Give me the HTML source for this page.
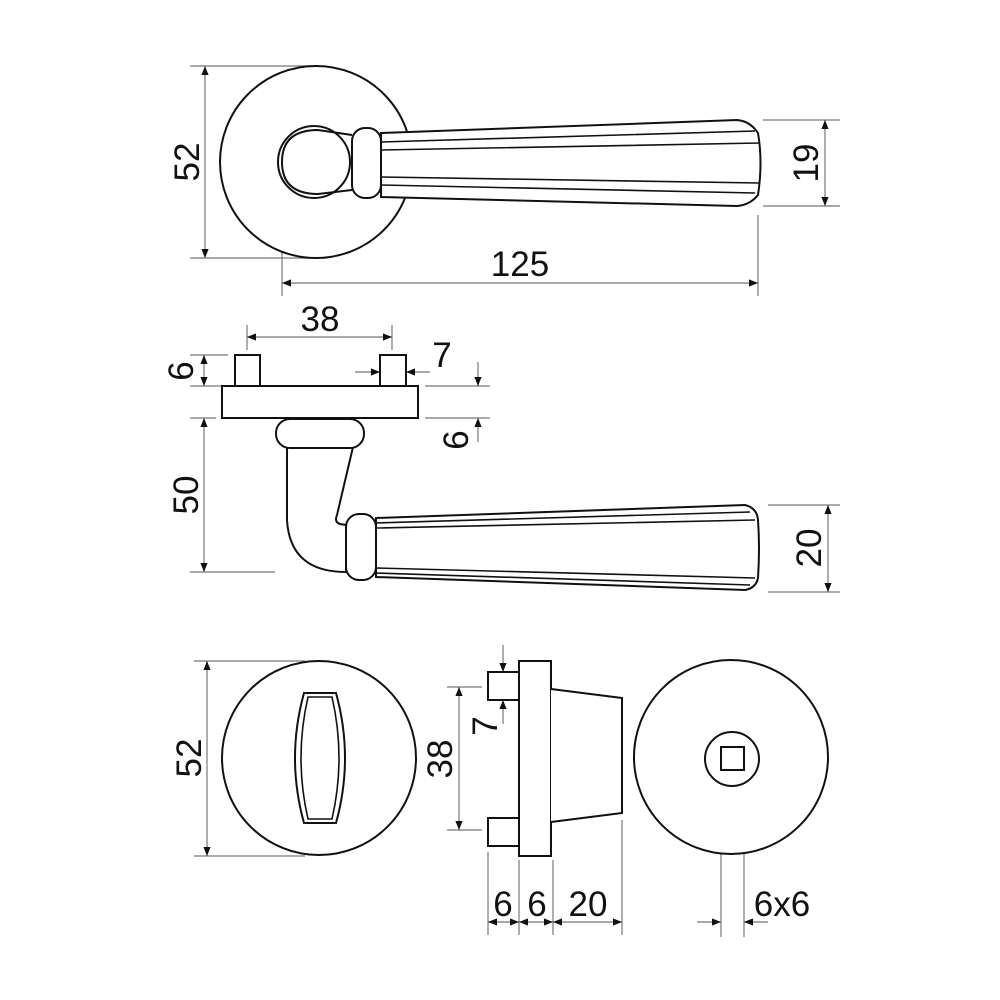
<!DOCTYPE html>
<html><head><meta charset="utf-8"><style>
html,body{margin:0;padding:0;background:#fff;}
svg{display:block;}
text{font-family:"Liberation Sans",sans-serif;font-size:35px;fill:#111;}
</style></head><body>
<svg width="1000" height="1000" viewBox="0 0 1000 1000" xmlns="http://www.w3.org/2000/svg">
<defs>
<marker id="a" viewBox="0 0 10 10" refX="10" refY="5" markerWidth="12" markerHeight="9" orient="auto-start-reverse" markerUnits="userSpaceOnUse"><path d="M0,1 L10,5 L0,9 Z" fill="#111"/></marker>
</defs>
<g fill="none" stroke="#777" stroke-width="1.2">
<line x1="190" y1="66" x2="315" y2="66"/><line x1="190" y1="258" x2="310" y2="258"/>
<line x1="205" y1="66" x2="205" y2="258" marker-start="url(#a)" marker-end="url(#a)"/>
<line x1="763" y1="120" x2="840" y2="120"/><line x1="763" y1="206" x2="840" y2="206"/>
<line x1="825" y1="120" x2="825" y2="206" marker-start="url(#a)" marker-end="url(#a)"/>
<line x1="282" y1="212" x2="282" y2="296"/><line x1="758" y1="215" x2="758" y2="296"/>
<line x1="282" y1="283" x2="758" y2="283" marker-start="url(#a)" marker-end="url(#a)"/>
<line x1="247" y1="325" x2="247" y2="350"/><line x1="392" y1="325" x2="392" y2="350"/>
<line x1="247" y1="337" x2="392" y2="337" marker-start="url(#a)" marker-end="url(#a)"/>
<line x1="355" y1="372" x2="380" y2="372" marker-end="url(#a)"/>
<line x1="430" y1="372" x2="406" y2="372" marker-end="url(#a)"/>
<line x1="190" y1="355" x2="228" y2="355"/><line x1="190" y1="386" x2="222" y2="386"/>
<line x1="204" y1="355" x2="204" y2="386" marker-start="url(#a)" marker-end="url(#a)"/>
<line x1="425" y1="386" x2="490" y2="386"/><line x1="425" y1="418" x2="490" y2="418"/>
<line x1="478" y1="362" x2="478" y2="386" marker-end="url(#a)"/>
<line x1="478" y1="442" x2="478" y2="418" marker-end="url(#a)"/>
<line x1="190" y1="418" x2="216" y2="418"/><line x1="190" y1="572" x2="275" y2="572"/>
<line x1="204" y1="418" x2="204" y2="572" marker-start="url(#a)" marker-end="url(#a)"/>
<line x1="768" y1="505" x2="840" y2="505"/><line x1="768" y1="592" x2="840" y2="592"/>
<line x1="828" y1="505" x2="828" y2="592" marker-start="url(#a)" marker-end="url(#a)"/>
<line x1="194" y1="661" x2="305" y2="661"/><line x1="194" y1="856" x2="305" y2="856"/>
<line x1="207" y1="661" x2="207" y2="856" marker-start="url(#a)" marker-end="url(#a)"/>
<line x1="503" y1="645" x2="503" y2="672" marker-end="url(#a)"/>
<line x1="503" y1="724" x2="503" y2="700" marker-end="url(#a)"/>
<line x1="447" y1="687" x2="482" y2="687"/><line x1="447" y1="830" x2="482" y2="830"/>
<line x1="459" y1="687" x2="459" y2="830" marker-start="url(#a)" marker-end="url(#a)"/>
<line x1="488" y1="852" x2="488" y2="935"/><line x1="519" y1="860" x2="519" y2="935"/>
<line x1="553" y1="860" x2="553" y2="935"/><line x1="622" y1="820" x2="622" y2="935"/>
<line x1="488" y1="922" x2="519" y2="922" marker-start="url(#a)" marker-end="url(#a)"/>
<line x1="519" y1="922" x2="553" y2="922" marker-start="url(#a)" marker-end="url(#a)"/>
<line x1="553" y1="922" x2="622" y2="922" marker-start="url(#a)" marker-end="url(#a)"/>
<line x1="721" y1="776" x2="721" y2="937"/><line x1="744" y1="776" x2="744" y2="937"/>
<line x1="697" y1="922" x2="721" y2="922" marker-end="url(#a)"/>
<line x1="768" y1="922" x2="744" y2="922" marker-end="url(#a)"/>
</g>
<g fill="#fff" stroke="#111" stroke-width="2">
<circle cx="316" cy="162" r="96"/>
<path d="M381,133 L737,120 Q750,121 758,133 Q763,162 758,195 Q750,205 737,206 L381,197 Z"/>
<path d="M381,142 L755,131 M381,150 L760,143 M381,177 L760,183 M381,185 L755,193" stroke-width="1.6"/>
<circle cx="314" cy="162" r="36"/>
<path d="M352,135 L318,130 Q282,130 282,162 Q282,194 318,194 L352,190" fill="none"/>
<rect x="352" y="128" width="29" height="70" rx="13"/>
<rect x="235" y="355" width="25" height="31"/>
<rect x="380" y="355" width="26" height="31"/>
<rect x="222" y="386" width="196" height="32"/>
<path d="M287,447 L287,520 Q290,572 346,572 L346,525 L340,524 Q334,522 337,515 L353,447 Z"/>
<path d="M376,518 L745,505 Q757,508 758,520 Q760,548 758,578 Q756,588 745,590 L376,577 Z"/>
<path d="M376,523 L750,512 M376,528 L755,520 M376,568 L755,578 M376,573 L750,585" stroke-width="1.6"/>
<rect x="346" y="514" width="30" height="66" rx="13"/>
<rect x="276" y="419" width="88" height="29" rx="14"/>
<circle cx="319" cy="758" r="97"/>
<path d="M304,693 L336,693 Q354,758 336,823 L304,823 Q286,758 304,693 Z"/>
<path d="M308,697 L332,697 Q346,758 332,819 L308,819 Q294,758 308,697 Z" stroke-width="1.6"/>
<rect x="488" y="672" width="31" height="28"/>
<rect x="488" y="818" width="31" height="28"/>
<rect x="519" y="661" width="32" height="195"/>
<path d="M551,689 L622,698 L622,813 L551,822"/>
<circle cx="731" cy="757" r="97"/>
<circle cx="732" cy="759" r="27"/>
<rect x="721" y="747" width="23" height="23"/>
</g>
<g>
<text x="0" y="0" text-anchor="middle" transform="translate(199,162) rotate(-90)">52</text>
<text x="0" y="0" text-anchor="middle" transform="translate(818,163) rotate(-90)">19</text>
<text x="520" y="276" text-anchor="middle">125</text>
<text x="320" y="331" text-anchor="middle">38</text>
<text x="442" y="367" text-anchor="middle">7</text>
<text x="0" y="0" text-anchor="middle" transform="translate(193,371) rotate(-90)">6</text>
<text x="0" y="0" text-anchor="middle" transform="translate(468,440) rotate(-90)">6</text>
<text x="0" y="0" text-anchor="middle" transform="translate(198,495) rotate(-90)">50</text>
<text x="0" y="0" text-anchor="middle" transform="translate(821,548) rotate(-90)">20</text>
<text x="0" y="0" text-anchor="middle" transform="translate(201,758) rotate(-90)">52</text>
<text x="0" y="0" text-anchor="middle" transform="translate(497,726) rotate(-90)">7</text>
<text x="0" y="0" text-anchor="middle" transform="translate(452,759) rotate(-90)">38</text>
<text x="503" y="916" text-anchor="middle">6</text>
<text x="537" y="916" text-anchor="middle">6</text>
<text x="588" y="916" text-anchor="middle">20</text>
<text x="782" y="916" text-anchor="middle">6x6</text>
</g>
</svg>
</body></html>
